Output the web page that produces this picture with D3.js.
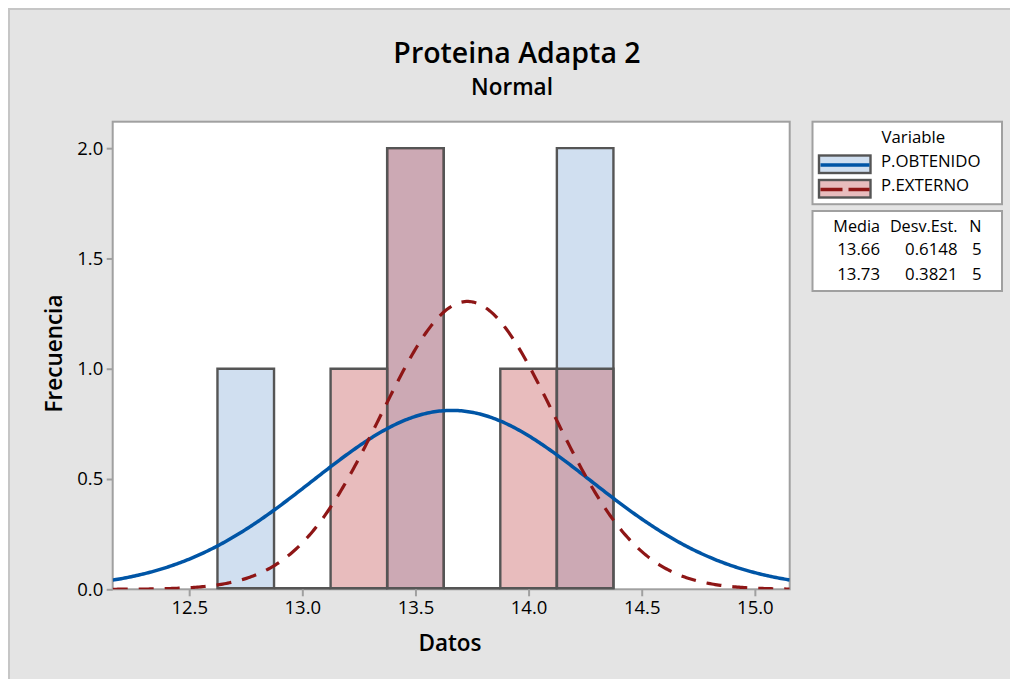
<!DOCTYPE html>
<html><head><meta charset="utf-8">
<script src="https://cdn.jsdelivr.net/npm/d3@7"></script>
<style>
html,body{margin:0;padding:0;background:#fff;overflow:hidden;width:1010px;height:679px;}
svg{display:block;font-family:"Open Sans","Noto Sans",sans-serif;}
</style></head>
<body>
<svg id="chart" width="1010" height="679"></svg>
<script>
// ---- data ----
const binCenters = [12.75, 13.0, 13.25, 13.5, 13.75, 14.0, 14.25];
const obtenido   = [1, 0, 0, 2, 0, 0, 2];
const externo    = [0, 0, 1, 2, 0, 1, 1];
const seriesNames = ["P.OBTENIDO", "P.EXTERNO"];
const means  = [13.66, 13.73];
const sds    = [0.6148, 0.3821];
const ns     = [5, 5];
const meanLabels = ["13.66", "13.73"];
const sdLabels   = ["0.6148", "0.3821"];
const binWidth = 0.25;
const xTicks = [12.5, 13.0, 13.5, 14.0, 14.5, 15.0];
const yTicks = [0, 0.5, 1.0, 1.5, 2.0];
const xDomain = [12.162, 15.154];
const yDomain = [0, 2.12];

// ---- layout ----
const svg = d3.select("#chart");
const L = 112.7, R = 789.7, T = 121.7, B = 589.3;
const x = d3.scaleLinear().domain(xDomain).range([L, R]);
const y = d3.scaleLinear().domain(yDomain).range([B, T]);

const blueFill = "#d0dff0", redFill = "rgb(198,89,92)", redOp = 0.404;
const outline = "#555555", frameCol = "#a0a0a0";
const blueLine = "#0055a6", redLine = "#8e1616";

// background (only top/left border visible, like the reference)
svg.append("rect").attr("x", 0).attr("y", 0).attr("width", 1010).attr("height", 679).attr("fill", "#fff");
svg.append("rect").attr("x", 9).attr("y", 9).attr("width", 1001).attr("height", 670).attr("fill", "#e4e4e4");
svg.append("path").attr("d", "M9,679V9H1010").attr("fill", "none")
  .attr("stroke", "#c6c6c6").attr("stroke-width", 2);

// titles
svg.append("text").attr("x", 517).attr("y", 63).attr("text-anchor", "middle")
  .attr("font-size", 28.5).attr("font-weight", 600).attr("fill", "#000").text("Proteina Adapta 2");
svg.append("text").attr("x", 512).attr("y", 95).attr("text-anchor", "middle")
  .attr("font-size", 22.5).attr("font-weight", 600).attr("fill", "#000").text("Normal");

// plot area
svg.append("rect").attr("x", L).attr("y", T).attr("width", R - L).attr("height", B - T)
  .attr("fill", "#fff").attr("stroke", frameCol).attr("stroke-width", 2);

svg.append("clipPath").attr("id", "clip").append("rect")
  .attr("x", L).attr("y", T).attr("width", R - L).attr("height", B - T);

// bars (drawn as closed paths so empty bins still show their base line)
const gBars = svg.append("g");
function drawBars(vals, fill, op) {
  gBars.append("g").selectAll("path").data(binCenters.map((c, i) => ({c, v: vals[i]})))
    .join("path")
    .attr("d", d => {
      const x0 = x(d.c - binWidth / 2), x1 = x(d.c + binWidth / 2);
      const yb = y(0) - 1.2, yt = Math.min(y(d.v), yb);
      return `M${x0},${yb}V${yt}H${x1}V${yb}Z`;
    })
    .attr("fill", fill).attr("fill-opacity", op)
    .attr("stroke", outline).attr("stroke-width", 2.4);
}
drawBars(obtenido, blueFill, 1);
drawBars(externo, redFill, redOp);

// fitted normal curves (from the displayed mean, st.dev. and N)
const gCurves = svg.append("g").attr("clip-path", "url(#clip)");
const xs = d3.range(0, 401).map(i => xDomain[0] + (xDomain[1] - xDomain[0]) * i / 400);
function normalCurve(m, s, n) {
  return xs.map(v => [v, n * binWidth * Math.exp(-0.5 * ((v - m) / s) ** 2) / (s * Math.sqrt(2 * Math.PI))]);
}
const line = d3.line().x(d => x(d[0])).y(d => y(d[1])).curve(d3.curveLinear);
gCurves.append("path").attr("d", line(normalCurve(means[0], sds[0], ns[0])))
  .attr("fill", "none").attr("stroke", blueLine).attr("stroke-width", 3.5);
gCurves.append("path").attr("d", line(normalCurve(means[1], sds[1], ns[1])))
  .attr("fill", "none").attr("stroke", redLine).attr("stroke-width", 3.2)
  .attr("stroke-dasharray", "15,11");

// axes
const fontTick = 18.5;
const xAxis = svg.append("g").attr("transform", `translate(0,${B})`)
  .call(d3.axisBottom(x).tickValues(xTicks).tickFormat(d3.format(".1f")).tickSize(7).tickPadding(4.6));
const yAxis = svg.append("g").attr("transform", `translate(${L},0)`)
  .call(d3.axisLeft(y).tickValues(yTicks).tickFormat(d3.format(".1f")).tickSize(6).tickPadding(3.4));
[xAxis, yAxis].forEach(g => {
  g.select(".domain").remove();
  g.selectAll(".tick line").attr("stroke", frameCol).attr("stroke-width", 2);
  g.selectAll(".tick text").attr("font-size", fontTick).attr("fill", "#000")
    .attr("font-family", '"Open Sans","Noto Sans",sans-serif');
});

// axis titles
svg.append("text").attr("x", 450).attr("y", 650.5).attr("text-anchor", "middle")
  .attr("font-size", 22.5).attr("font-weight", 600).attr("fill", "#000").text("Datos");
svg.append("text").attr("transform", "translate(62.3,353.5) rotate(-90)").attr("text-anchor", "middle")
  .attr("font-size", 22.5).attr("font-weight", 600).attr("fill", "#000").text("Frecuencia");

// legend
const lg = svg.append("g");
lg.append("rect").attr("x", 812.5).attr("y", 121.7).attr("width", 189.5).attr("height", 82.5)
  .attr("fill", "#fff").attr("stroke", frameCol).attr("stroke-width", 2);
lg.append("text").attr("x", 913.3).attr("y", 143.3).attr("text-anchor", "middle")
  .attr("font-size", 16.8).attr("fill", "#000").text("Variable");
const swY = [155.5, 180];
const swFills = [[blueFill, 1], [redFill, redOp]];
const swLines = [[blueLine, null], [redLine, "22,6"]];
seriesNames.forEach((nm, i) => {
  lg.append("rect").attr("x", 819).attr("y", swY[i]).attr("width", 51.5).attr("height", 17.5)
    .attr("fill", swFills[i][0]).attr("fill-opacity", swFills[i][1])
    .attr("stroke", outline).attr("stroke-width", 2.4);
  const l = lg.append("line").attr("x1", 820.5).attr("x2", 869.5)
    .attr("y1", swY[i] + 9.5).attr("y2", swY[i] + 9.5)
    .attr("stroke", swLines[i][0]).attr("stroke-width", 3.5);
  if (swLines[i][1]) l.attr("stroke-dasharray", swLines[i][1]);
  lg.append("text").attr("x", 881).attr("y", [167.3, 191.3][i])
    .attr("font-size", 16.8).attr("fill", "#000").text(nm);
});

// stats table
lg.append("rect").attr("x", 812.5).attr("y", 211).attr("width", 189.5).attr("height", 80)
  .attr("fill", "#fff").attr("stroke", frameCol).attr("stroke-width", 2);
const colX = [880, 957.5, 981.5];
const hdr = ["Media", "Desv.Est.", "N"];
hdr.forEach((h, j) => lg.append("text").attr("x", colX[j]).attr("y", 231.7).attr("text-anchor", "end")
  .attr("font-size", 16.2).attr("fill", "#000").text(h));
[0, 1].forEach(i => {
  [meanLabels[i], sdLabels[i], String(ns[i])].forEach((t, j) =>
    lg.append("text").attr("x", colX[j]).attr("y", [254.5, 279.5][i]).attr("text-anchor", "end")
      .attr("font-size", 16.8).attr("fill", "#000").text(t));
});
</script>
</body></html>
